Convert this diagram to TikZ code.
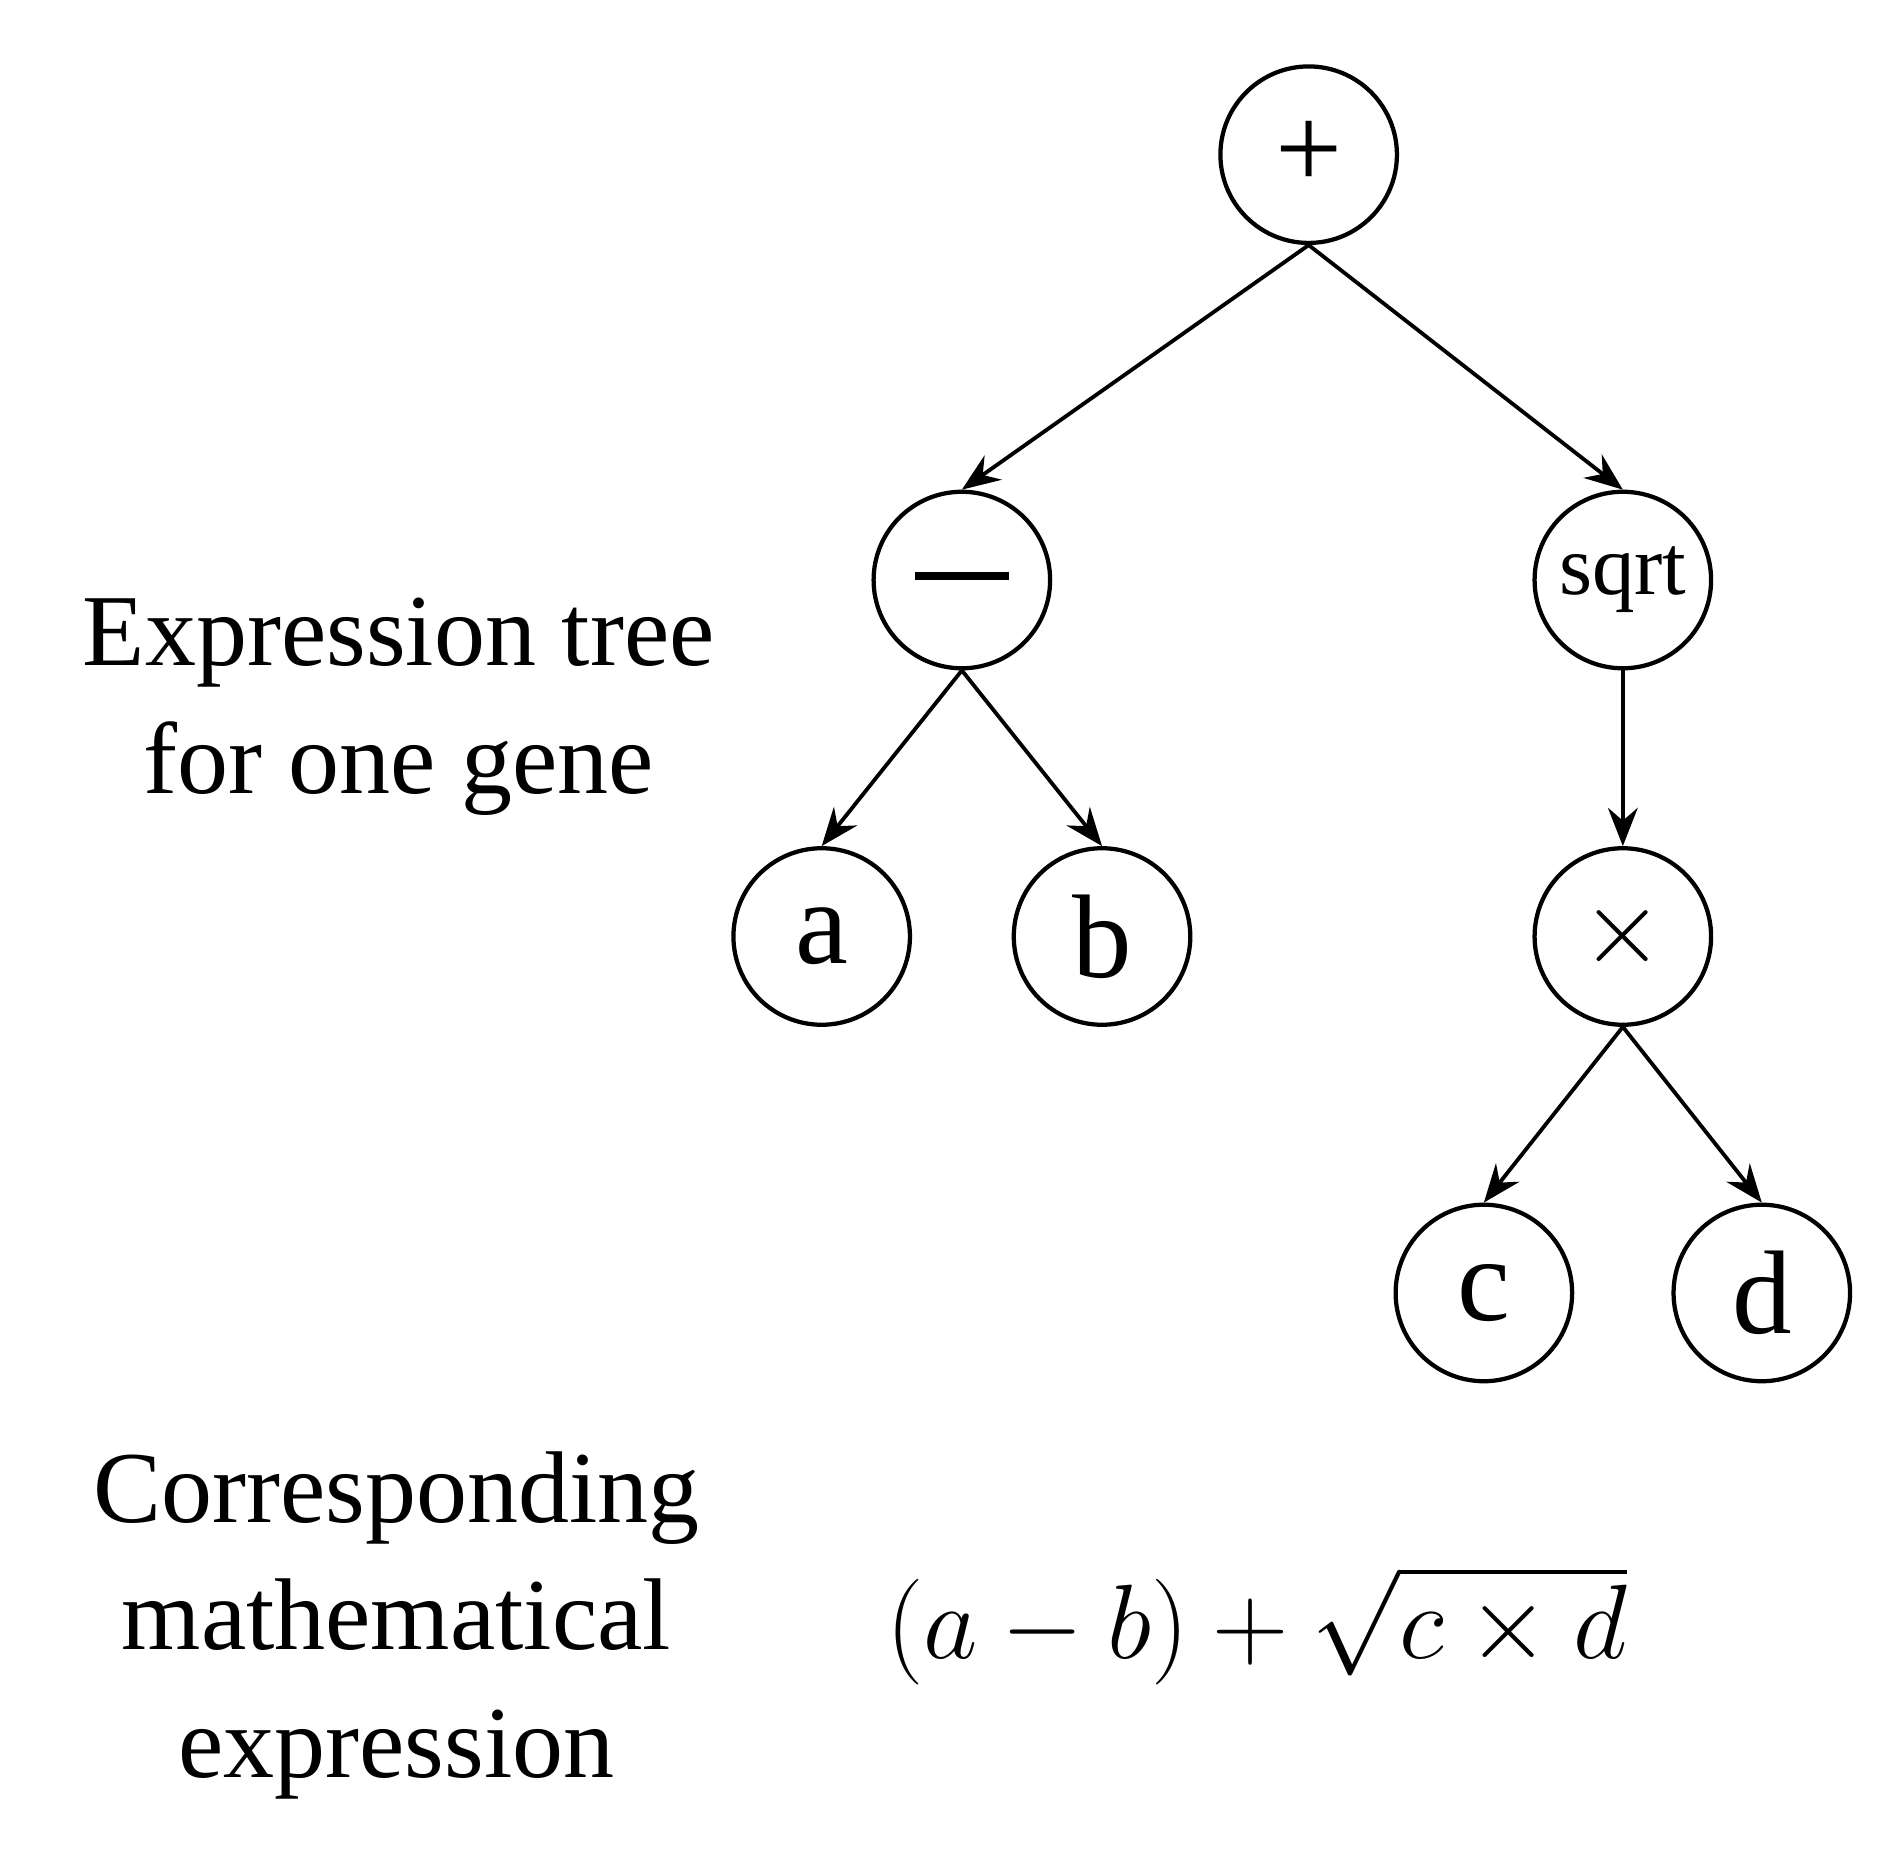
\documentclass[tikz,border=0pt]{standalone}
\usepackage{fontspec}
\setmainfont{Liberation Serif}
\usetikzlibrary{arrows.meta}
\begin{document}
\begin{tikzpicture}[x=0.01cm,y=-0.01cm,
  nd/.style={circle,draw,line width=1pt,minimum size=1.46cm,inner sep=0pt,font=\fontsize{28}{30}\selectfont},
  ed/.style={line width=0.9pt,-{Stealth[length=9pt,width=7pt,inset=3pt]}},
  lab/.style={align=center,font=\fontsize{24}{30}\selectfont}]
\useasboundingbox (0,0) rectangle (1555,1545);
\node[nd] (p) at (1083,128) {+};
\node[nd] (m) at (796,480) {\raisebox{2pt}{\rule{22pt}{2pt}}};
\node[nd,font=\fontsize{20}{22}\selectfont] (s) at (1343,480) {sqrt};
\node[nd] (a) at (680,775) {a};
\node[nd] (b) at (912,775) {b};
\node[nd] (t) at (1343,775) {$\times$};
\node[nd] (c) at (1228,1070) {c};
\node[nd] (d) at (1458,1070) {d};
\draw[ed] (p.south) -- (m.north);
\draw[ed] (p.south) -- (s.north);
\draw[ed] (m.south) -- (a.north);
\draw[ed] (m.south) -- (b.north);
\draw[ed] (s.south) -- (t.north);
\draw[ed] (t.south) -- (c.north);
\draw[ed] (t.south) -- (d.north);
\node[lab] (l1) at (330,585) {Expression tree\\for one gene};
\node[lab] (l2) at (328,1345) {Corresponding\\mathematical\\expression};
\node[font=\fontsize{30}{34}\selectfont] (f) at (1040,1345) {$(a-b)+\sqrt{c\times d}$};
\end{tikzpicture}
\end{document}
